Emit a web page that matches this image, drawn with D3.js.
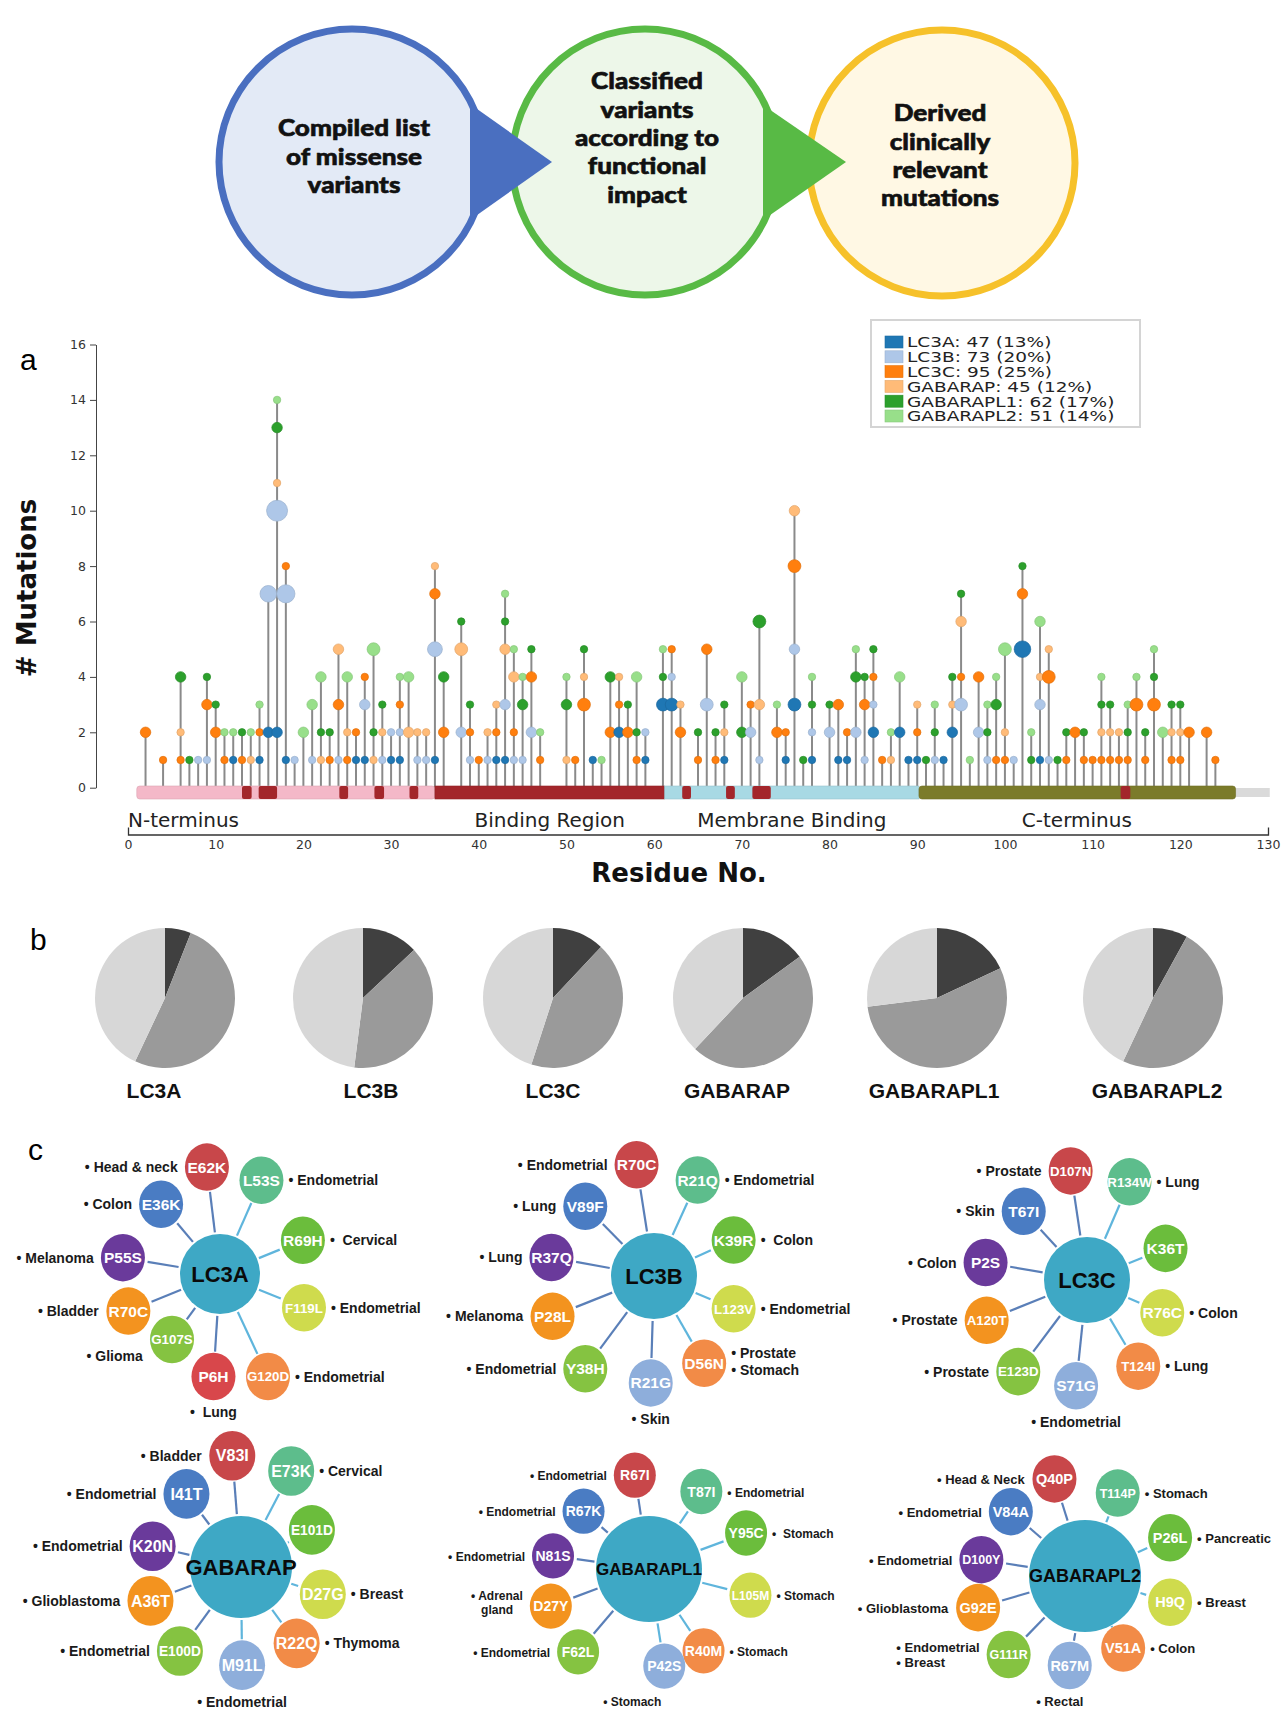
<!DOCTYPE html>
<html><head><meta charset="utf-8">
<script src="https://cdn.jsdelivr.net/npm/d3@7"></script>
<style>body{margin:0;background:#fff}</style>
</head><body>
<svg id="fig" width="1286" height="1710"></svg>
<script>
// ---------------- DATA ----------------
const headerStep1 = ["Compiled list","of missense","variants"];
const headerStep2 = ["Classified","variants","according to","functional","impact"];
const headerStep3 = ["Derived","clinically","relevant","mutations"];

const series = ["LC3A","LC3B","LC3C","GABARAP","GABARAPL1","GABARAPL2"];
const seriesTotals = [47,73,95,45,62,51];
const seriesPct = [13,20,25,12,17,14];

const residues = [2,4,6,7,8,9,10,11,12,13, 14,15,16,17,18,19,20,21,22,23, 24,25,26,27,28,29,30,31,32,33,
 34,35,36,38,39,40,41,42,43,44, 45,46,47,50,51,52,53,54,55,56, 57,58,59,61,62,63,65,66,67,68,
 70,71,72,74,75,76,77,78,80,81, 82,83,84,85,86,87,88,89,90,91, 92,93,94,95,96,97,98,99,100,101,
 102,103,104,105,106,107,108,109,110,111, 112,113,114,115,116,117,118,119,120,121, 123,124];
const lc3a = [0,0,0,0,0,0,0,0,1,0, 0,1,2,2,1,0,0,0,0,0, 0,0,1,1,0,0,1,1,0,0,
 0,1,0,0,0,0,0,1,1,0, 0,0,0,0,0,0,1,0,0,2, 0,0,1,3,3,0,0,0,0,1,
 0,0,0,0,1,3,0,1,0,1, 1,0,0,2,0,0,2,1,1,0, 0,1,2,0,0,0,0,0,0,0,
 5,0,1,0,0,0,0,0,0,0, 0,0,0,0,0,0,0,0,0,0, 0,0];
const lc3b = [0,0,0,0,1,1,0,0,0,0, 0,0,5,8,6,1,0,1,0,0, 1,0,0,2,0,1,1,1,0,1,
 1,4,0,2,1,0,1,0,2,1, 1,2,0,0,0,0,0,0,0,0, 0,0,1,0,1,0,0,3,0,0,
 0,2,1,0,0,2,0,1,2,0, 0,2,1,1,0,0,0,0,0,0, 1,0,0,3,0,2,1,0,0,1,
 0,0,2,1,0,0,0,0,0,0, 0,0,0,0,0,0,0,0,0,0, 0,0];
const lc3c = [2,1,1,0,0,2,2,1,0,1, 0,1,0,0,1,0,0,0,0,1, 2,1,1,1,0,0,0,1,0,0,
 0,2,2,0,1,1,0,1,0,1, 0,2,1,0,1,3,0,0,2,1, 2,1,0,0,1,2,1,2,1,0,
 0,1,0,2,1,3,0,0,0,2, 1,0,2,1,1,0,0,0,1,0, 0,0,0,1,0,2,0,1,1,0,
 2,0,0,3,0,1,2,1,1,1, 1,1,1,3,1,3,0,1,1,2, 2,1];
const gabarap = [0,0,1,0,0,0,0,0,0,0, 1,0,0,1,0,0,0,0,1,0, 2,1,0,0,1,1,0,0,2,1,
 1,1,0,3,0,0,1,1,2,2, 0,0,0,1,0,1,0,0,0,1, 0,0,0,0,0,1,0,0,0,1,
 0,0,2,0,0,2,0,0,0,0, 0,0,0,0,0,1,0,0,1,0, 0,0,1,2,0,0,0,0,1,0,
 0,0,1,1,0,0,0,0,0,1, 1,1,0,0,0,0,0,1,1,0, 0,0];
const gabarapl1 = [0,0,2,1,0,1,1,0,0,1, 0,0,0,2,0,0,0,0,1,1, 0,0,0,0,1,1,0,0,0,0,
 0,0,2,1,1,0,0,0,1,0, 2,1,0,2,0,1,0,0,2,0, 1,1,0,1,0,0,1,0,1,1,
 2,0,3,0,0,0,1,1,1,0, 0,2,1,1,0,0,0,0,0,1, 1,0,1,1,0,0,1,2,0,0,
 1,1,0,0,1,1,0,1,0,1, 1,0,1,0,1,1,0,1,1,0, 0,0];
const gabarapl2 = [0,0,0,0,0,0,0,1,1,0, 1,1,0,1,0,0,2,2,2,0, 0,2,0,0,3,0,0,1,2,0,
 0,0,0,0,0,0,0,0,1,1, 1,0,1,1,0,0,0,1,0,0, 0,2,0,1,0,0,0,0,0,0,
 2,0,0,1,0,0,0,1,0,0, 0,1,0,0,0,1,2,0,0,0, 1,0,0,0,1,0,1,1,3,0,
 0,1,2,0,0,0,0,0,0,1, 0,0,1,1,0,1,2,0,0,0, 0,0];

const xTicks = [0,10,20,30,40,50,60,70,80,90,100,110,120,130];
const yTicks = [0,2,4,6,8,10,12,14,16];

const domainNames = ["N-terminus","Binding Region","Membrane Binding","C-terminus"];
const domainSpans = [[1,35],[35,61.2],[61.2,90.2],[90.2,126.3]];
const tailSpan = [126.3,130.2];
const motifSpans = [[13,14.1],[14.9,17],[24.1,25.1],[28.1,29.2],[32.1,33.1],[63.2,64.2],[68.2,69.2],[71.2,73.3],[113.2,114.3]];

const pieGenes = ["LC3A","LC3B","LC3C","GABARAP","GABARAPL1","GABARAPL2"];
const pieDark  = [6,13,12,15,18,8];
const pieMid   = [51,39,43,47,55,49];
const pieLight = [43,48,45,38,27,43];

const networkGenes = ["LC3A","LC3B","LC3C","GABARAP","GABARAPL1","GABARAPL2"];
const networkMutations = [
 ["E62K","L53S","E36K","R69H","P55S","F119L","R70C","G107S","G120D","P6H"],
 ["R70C","R21Q","V89F","K39R","R37Q","L123V","P28L","Y38H","D56N","R21G"],
 ["D107N","R134W","T67I","K36T","P2S","R76C","A120T","E123D","T124I","S71G"],
 ["V83I","E73K","I41T","E101D","K20N","D27G","A36T","E100D","R22Q","M91L"],
 ["R67I","T87I","R67K","Y95C","N81S","L105M","D27Y","F62L","R40M","P42S"],
 ["Q40P","T114P","V84A","P26L","D100Y","H9Q","G92E","G111R","V51A","R67M"]];
const networkTissues = [
 ["• Head & neck","• Endometrial","• Colon","•  Cervical","• Melanoma","• Endometrial","• Bladder","• Glioma","• Endometrial","•  Lung"],
 ["• Endometrial","• Endometrial","• Lung","•  Colon","• Lung","• Endometrial","• Melanoma","• Endometrial","• Prostate|• Stomach","• Skin"],
 ["• Prostate","• Lung","• Skin","","• Colon","• Colon","• Prostate","• Prostate","• Lung","• Endometrial"],
 ["• Bladder","• Cervical","• Endometrial","","• Endometrial","• Breast","• Glioblastoma","• Endometrial","• Thymoma","• Endometrial"],
 ["• Endometrial","• Endometrial","• Endometrial","•  Stomach","• Endometrial","• Stomach","• Adrenal|   gland","• Endometrial","• Stomach","• Stomach"],
 ["• Head & Neck","• Stomach","• Endometrial","• Pancreatic","• Endometrial","• Breast","• Glioblastoma","• Endometrial|• Breast","• Colon","• Rectal"]];

// ---------------- LAYOUT / STYLE ----------------
const W = 1286, H = 1710;
const svg = d3.select("#fig");
svg.append("rect").attr("width",W).attr("height",H).attr("fill","#fff");
const seriesColors = ["#1f77b4","#aec7e8","#ff7f0e","#ffbb78","#2ca02c","#98df8a"];

// ---------- Header ----------
const hdr = svg.append("g");
const hc = [{cx:352,cy:162,fill:"#e3eaf6",stroke:"#4a6fc0"},
            {cx:645,cy:162,fill:"#edf7e9",stroke:"#58ba45"},
            {cx:942,cy:163,fill:"#fff8e4",stroke:"#f6c12a"}];
hdr.selectAll("circle").data(hc).join("circle")
  .attr("cx",d=>d.cx).attr("cy",d=>d.cy).attr("r",133)
  .attr("fill",d=>d.fill).attr("stroke",d=>d.stroke).attr("stroke-width",7);
hdr.append("path").attr("d","M470,104 L470,220 L552,162 Z").attr("fill","#4a6fc0");
hdr.append("path").attr("d","M763,105 L763,220 L846,162 Z").attr("fill","#58ba45");
const headerTexts = [{lines:headerStep1,x:354,y0:128},{lines:headerStep2,x:647,y0:81},{lines:headerStep3,x:940,y0:113}];
headerTexts.forEach(h=>{
  hdr.append("g").selectAll("text").data(h.lines).join("text")
    .attr("transform",(d,i)=>`translate(${h.x},${h.y0+i*28.3}) scale(1.16,1.04)`)
    .attr("x",0).attr("y",0).attr("dy","0.36em")
    .attr("text-anchor","middle").attr("font-family","Lato, 'Open Sans', sans-serif")
    .attr("font-weight",900).attr("font-size",22.5).attr("fill","#111")
    .attr("stroke","#111").attr("stroke-width",0.6).text(d=>d);
});

// ---------- Panel a: lollipop ----------
const xS = d3.scaleLinear().domain([0,130]).range([128,1268]);
const yS = d3.scaleLinear().domain([0,16]).range([787.7,344.5]);
const rS = d3.scaleSqrt().domain([0,8]).range([0,10.5]);
const gA = svg.append("g");
const axFont = "'DejaVu Sans', Verdana, sans-serif";

svg.append("text").attr("x",20).attr("y",370).attr("font-family","Arial, 'Liberation Sans', sans-serif")
  .attr("font-size",30).text("a");

// y axis
const yAx = gA.append("g").attr("transform","translate(96,0)")
  .call(d3.axisLeft(yS).tickValues(yTicks).tickSize(6).tickSizeOuter(0).tickPadding(4));
yAx.selectAll("path,line").attr("stroke","#444");
yAx.selectAll("text").attr("font-family",axFont).attr("font-size",12.5).attr("fill","#333");
gA.append("text").attr("transform","translate(36,588) rotate(-90)").attr("text-anchor","middle")
  .attr("font-family",axFont).attr("font-weight","bold").attr("font-size",26).attr("fill","#111")
  .text("# Mutations");

// stems + dots data
const stacks = residues.map((res,i)=>{
  let cum = 0; const dots = [];
  [lc3a,lc3b,lc3c,gabarap,gabarapl1,gabarapl2].forEach((arr,s)=>{
    const c = arr[i];
    if (c>0){ cum += c; dots.push({res, s, count:c, v:cum}); }
  });
  return {res, total:cum, dots};
});
gA.append("g").selectAll("line").data(stacks).join("line")
  .attr("x1",d=>xS(d.res)).attr("x2",d=>xS(d.res))
  .attr("y1",yS(0)).attr("y2",d=>yS(d.total))
  .attr("stroke","#8a8a8a").attr("stroke-width",2);

// protein bar
const barY = 786, barH = 13;
gA.append("rect").attr("x",xS(tailSpan[0])-4).attr("y",barY+2).attr("width",xS(tailSpan[1])-xS(tailSpan[0])+4)
  .attr("height",barH-4).attr("fill","#dadada");
const domColors = ["#f4b8c8","#a3262b","#a8d9e4","#7b7b2a"];
gA.append("g").selectAll("rect").data(domainSpans).join("rect")
  .attr("x",d=>xS(d[0])).attr("width",d=>xS(d[1])-xS(d[0])).attr("y",barY).attr("height",barH)
  .attr("rx",(d,i)=>(i===0||i===3)?3:0).attr("fill",(d,i)=>domColors[i]).attr("stroke",(d,i)=>d3.color(domColors[i]).darker(0.3)).attr("stroke-width",0.6);
gA.append("g").selectAll("rect").data(motifSpans).join("rect")
  .attr("x",d=>xS(d[0])).attr("width",d=>xS(d[1])-xS(d[0])).attr("y",barY).attr("height",barH)
  .attr("rx",2).attr("fill","#a3262b");

// dots
gA.append("g").selectAll("circle").data(stacks.flatMap(d=>d.dots)).join("circle")
  .attr("cx",d=>xS(d.res)).attr("cy",d=>yS(d.v)).attr("r",d=>rS(d.count))
  .attr("fill",d=>seriesColors[d.s]).attr("stroke",d=>d3.color(seriesColors[d.s]).darker(0.35)).attr("stroke-width",0.7);

// domain labels
const domLabelRes = [0,48.1,75.7,108.2];
gA.append("g").selectAll("text").data(domainNames).join("text")
  .attr("x",(d,i)=>xS(domLabelRes[i])).attr("y",827)
  .attr("text-anchor",(d,i)=>i===0?"start":"middle")
  .attr("font-family",axFont).attr("font-size",20).attr("fill","#222").text(d=>d);

// x axis
const xAx = gA.append("g").attr("transform","translate(0,834.5)")
  .call(d3.axisBottom(xS).tickValues(xTicks).tickSizeInner(0).tickSizeOuter(-7).tickPadding(6));
xAx.selectAll("path").attr("stroke","#333").attr("stroke-width",1.3);
xAx.selectAll("text").attr("font-family",axFont).attr("font-size",12.5).attr("fill","#333");
gA.append("text").attr("x",679).attr("y",882).attr("text-anchor","middle")
  .attr("font-family",axFont).attr("font-weight","bold").attr("font-size",26).attr("fill","#111").text("Residue No.");

// legend
const lg = gA.append("g");
lg.append("rect").attr("x",871).attr("y",320).attr("width",269).attr("height",107)
  .attr("fill","#fff").attr("stroke","#d4d4d4").attr("stroke-width",2);
const lgRows = lg.selectAll("g").data(series).join("g")
  .attr("transform",(d,i)=>`translate(885,${342+i*14.8})`);
lgRows.append("rect").attr("x",0).attr("y",-6).attr("width",18).attr("height",12)
  .attr("fill",(d,i)=>seriesColors[i]).attr("stroke",(d,i)=>d3.color(seriesColors[i]).darker(0.3)).attr("stroke-width",0.6);
lgRows.append("text").attr("transform","translate(22,0) scale(1,0.8)").attr("x",0).attr("y",0).attr("dy","0.36em")
  .attr("font-family",axFont).attr("font-size",18.5).attr("fill","#222")
  .text((d,i)=>`${d}: ${seriesTotals[i]} (${seriesPct[i]}%)`);

// ---------- Panel b: pies ----------
svg.append("text").attr("x",30).attr("y",950).attr("font-family","Arial, 'Liberation Sans', sans-serif")
  .attr("font-size",30).text("b");
const pieCx = [165,363,553,743,937,1153];
const pieLabelX = [154,371,553,737,934,1157];
const pieCols = ["#404040","#9a9a9a","#d7d7d7"];
const pieGen = d3.pie().sort(null);
const arcGen = d3.arc().innerRadius(0).outerRadius(70);
pieGenes.forEach((g,i)=>{
  const grp = svg.append("g").attr("transform",`translate(${pieCx[i]},998)`);
  grp.selectAll("path").data(pieGen([pieDark[i],pieMid[i],pieLight[i]])).join("path")
    .attr("d",arcGen).attr("fill",(d,j)=>pieCols[j]);
  svg.append("text").attr("x",pieLabelX[i]).attr("y",1098).attr("text-anchor","middle")
    .attr("font-family","'Liberation Sans', Arial, sans-serif").attr("font-weight","bold")
    .attr("font-size",21).attr("fill","#111").text(g);
});

// ---------- Panel c: networks ----------
svg.append("text").attr("x",28).attr("y",1160).attr("font-family","Arial, 'Liberation Sans', sans-serif")
  .attr("font-size",30).text("c");
const hubs = [[220,1274],[654,1276],[1087,1280],[241,1567],[649,1569],[1085,1576]];
const hubR = [40,43,43,51,53,56];
const hubFont = [22,22,22,22,17,18];
const satR = [22,22,22,23,21,22];
const satFont = [15.5,15.5,15.5,16,14,14.5];
const tisFont = [14,14,14,14,12,13];
const sk = 1.0908;
const satOffsets = [
 [[-12,-98],[38,-86],[-54,-64],[76,-31],[-89,-15],[77,31],[-84,34],[-44,60],[44,94],[-6,94]],
 [[-16,-102],[40,-88],[-63,-64],[73,-33],[-94,-17],[73,30],[-93,37],[-63,85],[46,80],[-3,98]],
 [[-15,-100],[39,-90],[-58,-63],[72,-29],[-93,-16],[69,30],[-92,37],[-63,84],[47,79],[-10,97]],
 [[-8,-102],[46,-88],[-50,-67],[65,-34],[-81,-19],[75,25],[-83,31],[-56,77],[51,70],[1,90]],
 [[-13,-86],[48,-71],[-60,-53],[89,-33],[-88,-12],[93,24],[-90,34],[-65,76],[50,75],[14,89]],
 [[-28,-89],[30,-76],[-68,-59],[78,-35],[-95,-15],[78,24],[-98,29],[-70,72],[35,66],[-14,82]]];
const slotColors = ["#c8474a","#5dbd8c","#4a7cc3","#6bbd3c","#6a3a9b","#cfdb4d","#f3931f","#85c341","#f28b47","#8eaedb"];
const colorOverride = {"0-9":"#d8474b"};
const labelSide = ["l","r","l","r","l","r","l","l","r","b"];
const labelDy = {"0-7":17, "1-8":-2, "4-6":-4, "5-7":0};
const labelDx = {"4-9":-32, "5-9":-10};

networkGenes.forEach((gene,n)=>{
  const [hx,hy] = hubs[n];
  const g = svg.append("g");
  const sats = networkMutations[n].map((m,k)=>{
    const o = satOffsets[n][k];
    return {m, k, x:hx+o[0]*sk, y:hy+o[1]*sk, tissue:networkTissues[n][k]};
  });
  // links
  g.selectAll("line").data(sats).join("line")
    .attr("x1",d=>{const a=Math.atan2(d.y-hy,d.x-hx);return hx+Math.cos(a)*(hubR[n]+2);})
    .attr("y1",d=>{const a=Math.atan2(d.y-hy,d.x-hx);return hy+Math.sin(a)*(hubR[n]+2);})
    .attr("x2",d=>{const a=Math.atan2(d.y-hy,d.x-hx);return d.x-Math.cos(a)*(satR[n]+3);})
    .attr("y2",d=>{const a=Math.atan2(d.y-hy,d.x-hx);return d.y-Math.sin(a)*(satR[n]+3);})
    .attr("stroke",d=>d.x<hx?"#5a7fb8":"#5fb5dc").attr("stroke-width",2.2);
  g.append("circle").attr("cx",hx).attr("cy",hy).attr("r",hubR[n]).attr("fill","#3ea8c5");
  g.append("text").attr("x",hx).attr("y",hy).attr("dy","0.36em").attr("text-anchor","middle")
    .attr("font-family","'Liberation Sans', Arial, sans-serif").attr("font-weight","bold")
    .attr("font-size",hubFont[n]).attr("fill","#0a0a0a").text(gene);
  g.selectAll("ellipse").data(sats).join("ellipse")
    .attr("cx",d=>d.x).attr("cy",d=>d.y).attr("rx",satR[n]).attr("ry",satR[n]*1.08)
    .attr("fill",d=>colorOverride[`${n}-${d.k}`]||slotColors[d.k]);
  g.selectAll("text.mut").data(sats).join("text").attr("class","mut")
    .attr("x",d=>d.x).attr("y",d=>d.y).attr("dy","0.36em").attr("text-anchor","middle")
    .attr("font-family","'Liberation Sans', Arial, sans-serif").attr("font-weight","bold")
    .attr("font-size",d=>d.m.length>4?satFont[n]*0.86:satFont[n]).attr("fill","#fff").text(d=>d.m);
  // tissue labels
  sats.filter(d=>d.tissue).forEach(d=>{
    const lines = d.tissue.split("|");
    const side = labelSide[d.k];
    const key = `${n}-${d.k}`;
    const dy = labelDy[key]||0, dx = labelDx[key]||0;
    const t = g.append("text").attr("font-family","'Liberation Sans', Arial, sans-serif")
      .attr("font-weight","bold").attr("font-size",tisFont[n]).attr("fill","#1a1a1a")
      .style("white-space","pre");
    const lh = tisFont[n]*1.2;
    lines.forEach((ln,j)=>t.append("tspan").attr("x",0).attr("y",j*lh).text(ln));
    const bb = t.node().getBBox();
    const h0 = (lines.length-1)*lh/2;
    let tx, ty;
    if (side==="l"){ tx = d.x - satR[n] - 7 - bb.width; ty = d.y + 5 - (lines.length>1?h0:0) + dy; }
    else if (side==="r"){ tx = d.x + satR[n] + 5; ty = d.y + 5 - (lines.length>1?h0:0) + dy; }
    else { tx = d.x - bb.width/2 + dx; ty = d.y + satR[n]*1.08 + 17 + dy; }
    t.attr("transform",`translate(${tx},${ty})`);
  });
});
</script>
</body></html>
